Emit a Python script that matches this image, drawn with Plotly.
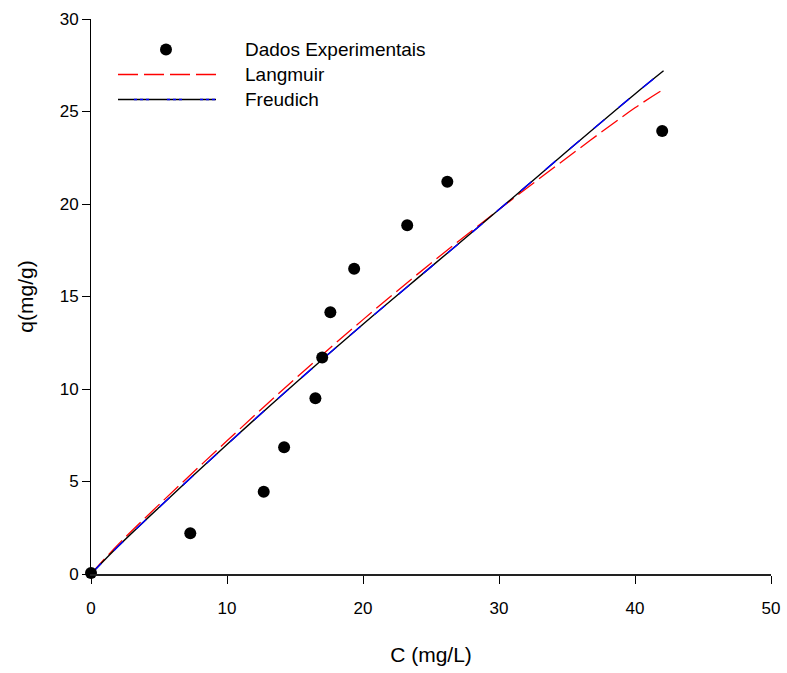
import plotly.graph_objects as go

# Experimental data
C_exp = [0.0, 7.3, 12.7, 14.2, 16.5, 17.0, 17.6, 19.35, 23.25, 26.2, 42.0]
q_exp = [0.05, 2.2, 4.45, 6.85, 9.5, 11.7, 14.15, 16.5, 18.85, 21.2, 23.95]

# Model curves
C_model = [0, 2, 5, 10, 15, 20, 25, 30, 35, 40, 42.1]
q_langmuir = [0, 1.6, 3.75, 7.2, 10.55, 13.75, 16.8, 19.7, 22.5, 25.2, 26.2]
q_freundlich = [0, 1.5, 3.6, 7.0, 10.3, 13.5, 16.6, 19.7, 22.85, 25.95, 27.2]

x_ticks = [0, 10, 20, 30, 40, 50]
y_ticks = [0, 5, 10, 15, 20, 25, 30]

legend_labels = ["Dados Experimentais", "Langmuir", "Freudich"]

FONT = "Liberation Sans, Arial, sans-serif"

fig = go.Figure()

fig.add_trace(go.Scatter(x=C_model, y=q_langmuir, mode="lines", line_shape="spline",
                         line=dict(color="#ff0000", width=1.3, dash="20px,6px"),
                         showlegend=False, cliponaxis=False))
fig.add_trace(go.Scatter(x=C_model, y=q_freundlich, mode="lines", line_shape="spline",
                         line=dict(color="#000000", width=1.4),
                         showlegend=False, cliponaxis=False))
fig.add_trace(go.Scatter(x=C_model, y=q_freundlich, mode="lines", line_shape="spline",
                         line=dict(color="#0000ff", width=1.4, dash="14px,18px"),
                         showlegend=False, cliponaxis=False))
fig.add_trace(go.Scatter(x=C_exp, y=q_exp, mode="markers",
                         marker=dict(color="#000000", size=12),
                         showlegend=False, cliponaxis=False))

# Manual legend (paper coords)
L, B, W, H = 91, 574.5, 680, 555
def px(x):
    return (x - L) / W
def py(y):
    return (B - y) / H

shapes = []
shapes.append(dict(type="circle", xref="paper", yref="paper", xsizemode="pixel", ysizemode="pixel",
                   xanchor=px(166), yanchor=py(50), x0=-6, x1=6, y0=-6, y1=6,
                   fillcolor="#000000", line=dict(color="#000000", width=0)))
shapes.append(dict(type="line", xref="paper", yref="paper", x0=px(118), x1=px(216), y0=py(75), y1=py(75),
                   line=dict(color="#ff0000", width=1.3, dash="20px,6px")))
shapes.append(dict(type="line", xref="paper", yref="paper", x0=px(118), x1=px(216), y0=py(100), y1=py(100),
                   line=dict(color="#000000", width=1.4)))
for xs in [(134, 150), (167, 183), (200, 216)]:
    shapes.append(dict(type="line", xref="paper", yref="paper", x0=px(xs[0]), x1=px(xs[1]),
                       y0=py(100), y1=py(100), line=dict(color="#0000ff", width=1.4, dash="dot")))

annotations = []
for i, lab in enumerate(legend_labels):
    annotations.append(dict(text=lab, xref="paper", yref="paper", x=px(243), y=py(50 + 25 * i),
                            xanchor="left", yanchor="middle", showarrow=False,
                            font=dict(family=FONT, size=19, color="#000000")))

fig.update_layout(
    width=787, height=673,
    margin=dict(l=91, r=16, t=19, b=99),
    paper_bgcolor="white", plot_bgcolor="white",
    font=dict(family=FONT, color="#000000"),
    shapes=shapes, annotations=annotations,
    showlegend=False,
)
fig.update_xaxes(range=[0, 50], tickvals=x_ticks, ticks="outside", ticklen=8, tickwidth=1,
                 tickcolor="#000000", showline=True, linecolor="#222222", linewidth=2,
                 showgrid=False, zeroline=False, tickfont=dict(size=17, family=FONT),
                 ticklabelstandoff=10, automargin=False,
                 title=dict(text="C (mg/L)", font=dict(size=21, family=FONT), standoff=30))
fig.update_yaxes(range=[0, 30], tickvals=y_ticks, ticks="outside", ticklen=8, tickwidth=1,
                 tickcolor="#000000", showline=True, linecolor="#000000", linewidth=1,
                 showgrid=False, zeroline=False, tickfont=dict(size=17, family=FONT),
                 automargin=False,
                 title=dict(text="q(mg/g)", font=dict(size=21, family=FONT), standoff=20))

fig.write_html("out.html")
